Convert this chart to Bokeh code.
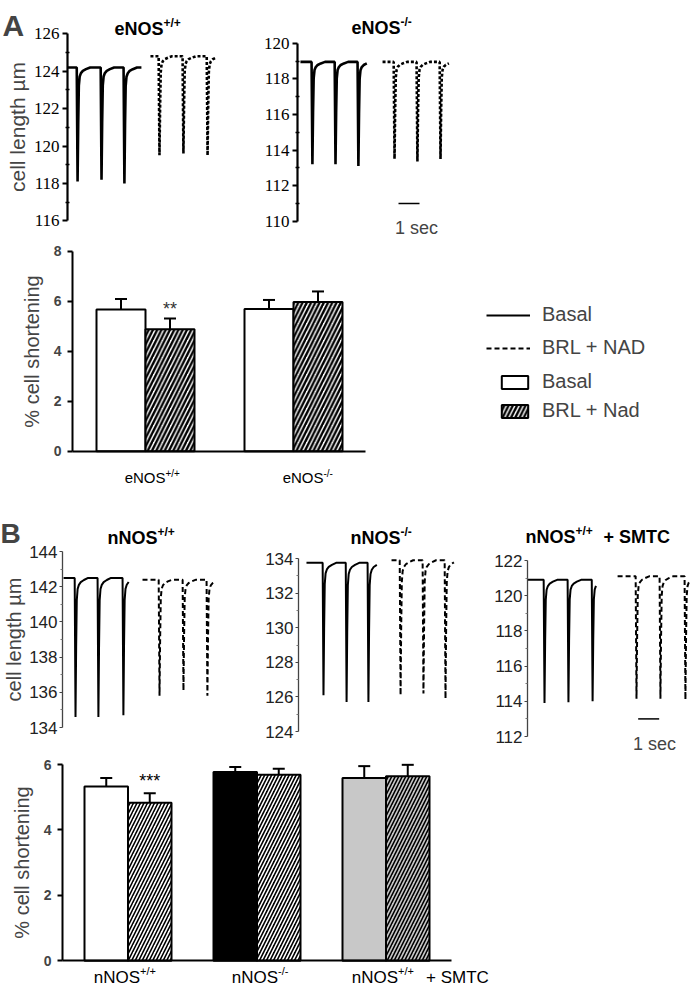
from bokeh.plotting import figure
from bokeh.models import (Range1d, FixedTicker, Label, LabelSet, Legend, LegendItem,
                          Whisker, TeeHead, ColumnDataSource, LinearAxis)
from bokeh.core.properties import value
from bokeh.embed import file_html
from bokeh.resources import INLINE

SANS = "Liberation Sans"
SERIF = "Liberation Serif"

# ---------------- data ----------------
# shape of one twitch (time offset in s, fraction of the dip depth)
TWITCH_DT = [-0.04, 0.0, 0.03, 0.06, 0.10, 0.16, 0.25, 0.40, 0.60]
TWITCH_FRAC = [0.0, 1.0, 0.5, 0.16, 0.08, 0.05, 0.03, 0.015, 0.0]

# Panel A, eNOS+/+
A_WT_BASAL_SPAN = [0.0, 3.52]
A_WT_BASAL_DIPS = [0.48, 1.62, 2.71]
A_WT_BASAL_MIN = [118.1, 118.2, 118.0]
A_WT_BASAL_BASE = 124.2
A_WT_BRL_SPAN = [3.95, 7.10]
A_WT_BRL_DIPS = [4.38, 5.52, 6.67]
A_WT_BRL_MIN = [119.5, 119.6, 119.5]
A_WT_BRL_BASE = 124.8
# Panel A, eNOS-/-
A_KO_BASAL_SPAN = [0.14, 3.38]
A_KO_BASAL_DIPS = [0.71, 1.81, 2.90]
A_KO_BASAL_MIN = [113.2, 113.2, 113.1]
A_KO_BASAL_BASE = 118.95
A_KO_BRL_SPAN = [4.05, 7.29]
A_KO_BRL_DIPS = [4.62, 5.71, 6.81]
A_KO_BRL_MIN = [113.5, 113.35, 113.5]
A_KO_BRL_BASE = 118.95
# Panel B, nNOS+/+
B_WT_BASAL_SPAN = [0.05, 3.24]
B_WT_BASAL_DIPS = [0.62, 1.71, 2.90]
B_WT_BASAL_MIN = [134.6, 134.6, 134.7]
B_WT_BASAL_BASE = 142.5
B_WT_BRL_SPAN = [3.81, 7.38]
B_WT_BRL_DIPS = [4.62, 5.76, 6.90]
B_WT_BRL_MIN = [135.8, 136.1, 135.8]
B_WT_BRL_BASE = 142.4
# Panel B, nNOS-/-
B_KO_BASAL_SPAN = [0.38, 3.81]
B_KO_BASAL_DIPS = [1.19, 2.29, 3.33]
B_KO_BASAL_MIN = [126.1, 125.7, 125.7]
B_KO_BASAL_BASE = 133.75
B_KO_BRL_SPAN = [4.43, 7.43]
B_KO_BRL_DIPS = [4.86, 5.95, 7.00]
B_KO_BRL_MIN = [126.1, 126.2, 125.9]
B_KO_BRL_BASE = 133.9
# Panel B, nNOS+/+ + SMTC
B_SM_BASAL_SPAN = [0.0, 3.33]
B_SM_BASAL_DIPS = [0.81, 1.95, 3.10]
B_SM_BASAL_MIN = [113.9, 113.95, 114.0]
B_SM_BASAL_BASE = 120.9
B_SM_BRL_SPAN = [4.29, 7.90]
B_SM_BRL_DIPS = [5.19, 6.33, 7.52]
B_SM_BRL_MIN = [114.15, 114.15, 114.1]
B_SM_BRL_BASE = 121.1

SCALE_BAR_SEC = 1.0

# bar charts
A_GROUP_MAIN = ["eNOS", "eNOS"]
A_GROUP_SUP = ["+/+", "-/-"]
A_BASAL = [5.67, 5.69]
A_BASAL_SEM = [0.42, 0.36]
A_BRL = [4.88, 5.97]
A_BRL_SEM = [0.43, 0.42]
A_STARS = ["**", ""]
A_FILL = ["white", "white"]
A_HATCH = ["black", "black"]

B_GROUP_MAIN = ["nNOS", "nNOS", "nNOS"]
B_GROUP_SUP = ["+/+", "-/-", "+/+"]
B_GROUP_SUFFIX = ["", "", "+ SMTC"]
B_BASAL = [5.33, 5.77, 5.59]
B_BASAL_SEM = [0.26, 0.15, 0.36]
B_BRL = [4.83, 5.69, 5.64]
B_BRL_SEM = [0.29, 0.18, 0.35]
B_STARS = ["***", "", ""]
B_FILL = ["white", "black", "#c8c8c8"]
B_HATCH = ["black", "white", "black"]

LEG_TRACE = ["Basal", "BRL + NAD"]
LEG_BAR = ["Basal", "BRL + Nad"]

# ---------------- page geometry ----------------
W, H = 693, 989
PX_PER_SEC = 21


def xr(v0, px, scale):
    start = v0 - px / scale
    return Range1d(start, start + W / scale)


def yr(v0, py, scale):
    end = v0 + py / scale
    return Range1d(end - H / scale, end)


p = figure(width=W, height=H, x_range=Range1d(0, W), y_range=Range1d(0, H),
           x_axis_location=None, y_axis_location=None, title=None,
           min_border_left=0, min_border_right=0, min_border_top=0, min_border_bottom=0,
           output_backend="svg", toolbar_location=None)
p.outline_line_color = None
for g in p.grid:
    g.visible = False

p.extra_x_ranges = {
    "a1x": xr(0, 67, PX_PER_SEC), "a2x": xr(0, 297, PX_PER_SEC),
    "b1x": xr(0, 62, PX_PER_SEC), "b2x": xr(0, 298, PX_PER_SEC), "b3x": xr(0, 527, PX_PER_SEC),
    "bax": xr(1, 145, 148), "bbx": xr(1, 127.5, 129),
}
p.extra_y_ranges = {
    "a1y": yr(126, 33.3, 18.7), "a2y": yr(120, 42.7, 17.8),
    "b1y": yr(144, 551, 17.6), "b2y": yr(134, 558, 17.3), "b3y": yr(122, 560, 17.6),
    "bay": yr(8, 250.7, 25.0), "bby": yr(6, 764, 32.7),
}


# ---------------- helpers ----------------
def trace_xy(span, dips, minima, base):
    xs, ys = [span[0]], [base]
    for d, m in zip(dips, minima):
        for dt, f in zip(TWITCH_DT, TWITCH_FRAC):
            t = d + dt
            if span[0] < t <= span[1]:
                xs.append(t)
                ys.append(base - (base - m) * f)
    if span[1] - dips[-1] >= TWITCH_DT[-1]:
        xs.append(span[1])
        ys.append(base)
    return xs, ys


def trace_axis(xn, yn, ylo, yhi, serif, label=None):
    ax = LinearAxis(x_range_name=xn, y_range_name=yn, fixed_location=0, bounds=(ylo, yhi),
                    ticker=FixedTicker(ticks=list(range(ylo, yhi + 1, 2)),
                                       minor_ticks=list(range(ylo + 1, yhi, 2))))
    ax.axis_label_text_font_style = "normal"
    ax.axis_label_text_font = SANS
    ax.major_tick_in = 0
    if serif:
        ax.axis_line_width = 2.2
        ax.major_tick_line_width = 2
        ax.major_tick_out = 5
        ax.minor_tick_in = 2
        ax.minor_tick_out = 2
        ax.minor_tick_line_width = 1.5
        ax.major_label_standoff = 3
        ax.major_label_text_font = SERIF
        ax.major_label_text_font_size = "17px"
        ax.major_label_text_color = "black"
        ax.axis_label_text_font_size = "21px"
        ax.axis_label_standoff = 2
    else:
        ax.axis_line_width = 1.3
        ax.axis_line_color = "#444444"
        ax.major_tick_line_color = "#444444"
        ax.minor_tick_line_color = "#777777"
        ax.major_tick_out = 3
        ax.minor_tick_in = 0
        ax.minor_tick_out = 2
        ax.major_label_standoff = 2
        ax.major_label_text_font = SANS
        ax.major_label_text_font_size = "17px"
        ax.major_label_text_color = "#222222"
        ax.axis_label_text_font_size = "20px"
        ax.axis_label_standoff = 1
    if label:
        ax.axis_label = label
    p.add_layout(ax, "left")


def add_traces(xn, yn, basal, brl, width, dash):
    xs, ys = trace_xy(*basal)
    r1 = p.line(xs, ys, x_range_name=xn, y_range_name=yn, line_color="black", line_width=width)
    xs, ys = trace_xy(*brl)
    r2 = p.line(xs, ys, x_range_name=xn, y_range_name=yn, line_color="black",
                line_width=width, line_dash=dash)
    return r1, r2


def sup_label(xn, yn, x, y, dx, dy, main, sup, size, sup_size, sup_raise, bold,
              suffix="", suffix_dx=0, color="black"):
    style = "bold" if bold else "normal"
    common = dict(x=x, y=y, x_range_name=xn, y_range_name=yn, text_font=SANS,
                  text_font_style=style, text_baseline="alphabetic", text_color=color)
    p.add_layout(Label(x_offset=dx, y_offset=dy, text=main, text_align="right",
                       text_font_size=size, **common))
    p.add_layout(Label(x_offset=dx, y_offset=dy + sup_raise, text=sup, text_align="left",
                       text_font_size=sup_size, **common))
    if suffix:
        p.add_layout(Label(x_offset=suffix_dx, y_offset=dy, text=suffix, text_align="left",
                           text_font_size=size, **common))


def scale_bar(xn, yn, x0, y, text_x, text_y):
    p.segment(x0=[x0], y0=[y], x1=[x0 + SCALE_BAR_SEC], y1=[y], x_range_name=xn,
              y_range_name=yn, line_color="black", line_width=1.5)
    p.add_layout(Label(x=text_x, y=text_y, x_range_name=xn, y_range_name=yn, text="1 sec",
                       text_align="center", text_baseline="alphabetic", text_font=SANS,
                       text_font_size="18px"))


def bar_axes(xn, yn, axis_x, x_end, ymax):
    ya = LinearAxis(x_range_name=xn, y_range_name=yn, fixed_location=axis_x,
                    bounds=(0, ymax), ticker=FixedTicker(ticks=list(range(0, ymax + 1, 2))))
    ya.minor_tick_line_color = None
    ya.axis_line_width = 2
    ya.major_tick_line_width = 2
    ya.major_tick_out = 5
    ya.major_tick_in = 0
    ya.major_label_standoff = 6
    ya.major_label_text_font = SANS
    ya.major_label_text_font_style = "bold"
    ya.major_label_text_font_size = "14px"
    ya.axis_label = "% cell shortening"
    ya.axis_label_text_font = SANS
    ya.axis_label_text_font_style = "normal"
    ya.axis_label_text_font_size = "20px"
    ya.axis_label_standoff = 8
    p.add_layout(ya, "left")
    xa = LinearAxis(x_range_name=xn, y_range_name=yn, fixed_location=0,
                    bounds=(axis_x, x_end), ticker=FixedTicker(ticks=[]))
    xa.axis_line_width = 2
    xa.major_tick_line_color = None
    xa.minor_tick_line_color = None
    xa.major_tick_out = 0
    xa.major_tick_in = 0
    xa.minor_tick_out = 0
    xa.minor_tick_in = 0
    xa.major_label_standoff = 0
    xa.axis_label_standoff = 0
    xa.major_label_text_font_size = "0px"
    p.add_layout(xa, "below")


def add_bars(xn, yn, basal, basal_sem, brl, brl_sem, fills, hatches, stars, bw,
             hscale, hweight, star_dy, star_color):
    pos = [i + 1 for i in range(len(basal))]
    s1 = ColumnDataSource(dict(x=[c - bw / 2 for c in pos], top=basal,
                               upper=[m + s for m, s in zip(basal, basal_sem)], fill=fills))
    s2 = ColumnDataSource(dict(x=[c + bw / 2 for c in pos], top=brl,
                               upper=[m + s for m, s in zip(brl, brl_sem)], fill=fills,
                               hatch=hatches, stars=stars))
    for src in (s1, s2):
        p.add_layout(Whisker(source=src, base="x", lower="top", upper="upper",
                             x_range_name=xn, y_range_name=yn,
                             line_width=2, line_color="black", lower_head=None,
                             upper_head=TeeHead(size=12, line_width=2, line_color="black"),
                             level="underlay"))
    r1 = p.vbar(x="x", top="top", bottom=0, width=bw, source=s1, fill_color="fill",
                x_range_name=xn, y_range_name=yn, line_color="black", line_width=2)
    r2 = p.vbar(x="x", top="top", bottom=0, width=bw, source=s2, fill_color="fill",
                x_range_name=xn, y_range_name=yn, line_color="black", line_width=2,
                hatch_pattern="/", hatch_color="hatch", hatch_scale=hscale,
                hatch_weight=hweight)
    p.add_layout(LabelSet(x="x", y="upper", text="stars", source=s2, text_align="center",
                          x_range_name=xn, y_range_name=yn,
                          text_baseline="alphabetic", y_offset=star_dy,
                          text_font=value(SANS), text_font_size=value("18px"),
                          text_color=star_color))
    return pos, r1, r2


# ---------------- panel A traces ----------------
trace_axis("a1x", "a1y", 116, 126, True, "cell length µm")
add_traces("a1x", "a1y", (A_WT_BASAL_SPAN, A_WT_BASAL_DIPS, A_WT_BASAL_MIN, A_WT_BASAL_BASE),
           (A_WT_BRL_SPAN, A_WT_BRL_DIPS, A_WT_BRL_MIN, A_WT_BRL_BASE), 2.6, "3 2")
sup_label("a1x", "a1y", 0, 126, 96, 5, "eNOS", "+/+", "18px", "12px", 6, True)
p.add_layout(Label(x=0, y=126, x_range_name="a1x", y_range_name="a1y", x_offset=-65,
                   y_offset=8, text="A", text_font=SANS, text_font_style="bold",
                   text_font_size="30px", text_baseline="alphabetic"))

trace_axis("a2x", "a2y", 110, 120, True)
add_traces("a2x", "a2y", (A_KO_BASAL_SPAN, A_KO_BASAL_DIPS, A_KO_BASAL_MIN, A_KO_BASAL_BASE),
           (A_KO_BRL_SPAN, A_KO_BRL_DIPS, A_KO_BRL_MIN, A_KO_BRL_BASE), 2.6, "3 2")
sup_label("a2x", "a2y", 0, 120, 103, 15, "eNOS", "-/-", "18px", "12px", 6, True)
scale_bar("a2x", "a2y", 4.81, 111.0, 5.67, 109.6)

# ---------------- panel A bars ----------------
bar_axes("bax", "bay", 1 - 73 / 148, 1 + 220 / 148, 8)
pos_a, ra1, ra2 = add_bars("bax", "bay", A_BASAL, A_BASAL_SEM, A_BRL, A_BRL_SEM, A_FILL,
                           A_HATCH, A_STARS, 49 / 148, 8.5, 2.4, 3, "#333333")
for i, c in enumerate(pos_a):
    sup_label("bax", "bay", c, 0, [20, 30][i], -26, A_GROUP_MAIN[i], A_GROUP_SUP[i],
              "15px", "10px", 4, False)

# ---------------- panel B traces ----------------
trace_axis("b1x", "b1y", 134, 144, False, "cell length µm")
rb1, rb2 = add_traces("b1x", "b1y",
                      (B_WT_BASAL_SPAN, B_WT_BASAL_DIPS, B_WT_BASAL_MIN, B_WT_BASAL_BASE),
                      (B_WT_BRL_SPAN, B_WT_BRL_DIPS, B_WT_BRL_MIN, B_WT_BRL_BASE), 2, "5 3")
sup_label("b1x", "b1y", 0, 144, 95, 14, "nNOS", "+/+", "18px", "12px", 6, True)
p.add_layout(Label(x=0, y=144, x_range_name="b1x", y_range_name="b1y", x_offset=-62,
                   y_offset=18, text="B", text_font=SANS, text_font_style="bold",
                   text_font_size="28px", text_baseline="alphabetic"))

trace_axis("b2x", "b2y", 124, 134, False)
add_traces("b2x", "b2y", (B_KO_BASAL_SPAN, B_KO_BASAL_DIPS, B_KO_BASAL_MIN, B_KO_BASAL_BASE),
           (B_KO_BRL_SPAN, B_KO_BRL_DIPS, B_KO_BRL_MIN, B_KO_BRL_BASE), 2, "5 3")
sup_label("b2x", "b2y", 0, 134, 102, 21, "nNOS", "-/-", "18px", "12px", 6, True)

trace_axis("b3x", "b3y", 112, 122, False)
add_traces("b3x", "b3y", (B_SM_BASAL_SPAN, B_SM_BASAL_DIPS, B_SM_BASAL_MIN, B_SM_BASAL_BASE),
           (B_SM_BRL_SPAN, B_SM_BRL_DIPS, B_SM_BRL_MIN, B_SM_BRL_BASE), 2, "5 3")
sup_label("b3x", "b3y", 0, 122, 48, 24, "nNOS", "+/+", "18px", "12px", 6, True,
          suffix="+ SMTC", suffix_dx=76)
scale_bar("b3x", "b3y", 5.27, 113.0, 6.05, 111.6)

# ---------------- panel B bars ----------------
bar_axes("bbx", "bby", 1 - 65.5 / 129, 1 + 323.5 / 129, 6)
pos_b, _, _ = add_bars("bbx", "bby", B_BASAL, B_BASAL_SEM, B_BRL, B_BRL_SEM, B_FILL, B_HATCH,
                       B_STARS, 43.5 / 129, 7, 1.6, 6, "black")
for i, c in enumerate(pos_b):
    sup_label("bbx", "bby", c, 0, [12, 21, 12][i], -17, B_GROUP_MAIN[i], B_GROUP_SUP[i],
              "17px", "11px", 7, False, suffix=B_GROUP_SUFFIX[i], suffix_dx=40)

# ---------------- legend (one per entry, placed from the frame's bottom-left) ----------------
ITEM_H = 22
leg_specs = [
    (LEG_TRACE[0], rb1, None, 486, 315, 44, 20, 12),
    (LEG_TRACE[1], rb2, None, 486, 348, 44, 20, 12),
    (LEG_BAR[0], ra1, 0, 498, 382, 33, 16, 11),
    (LEG_BAR[1], ra2, 0, 498, 411, 33, 16, 11),
]
for label, rend, idx, gx, gy, gw, gh, standoff in leg_specs:
    item = LegendItem(label=label, renderers=[rend], index=idx)
    p.add_layout(Legend(items=[item], location=(gx, H - gy - ITEM_H / 2),
                        padding=0, margin=0, spacing=0, glyph_width=gw, glyph_height=gh,
                        label_standoff=standoff, label_text_font=SANS,
                        label_text_font_size="20px", label_height=20,
                        border_line_color=None, background_fill_alpha=0))

open("out.html", "w").write(file_html(p, INLINE))
